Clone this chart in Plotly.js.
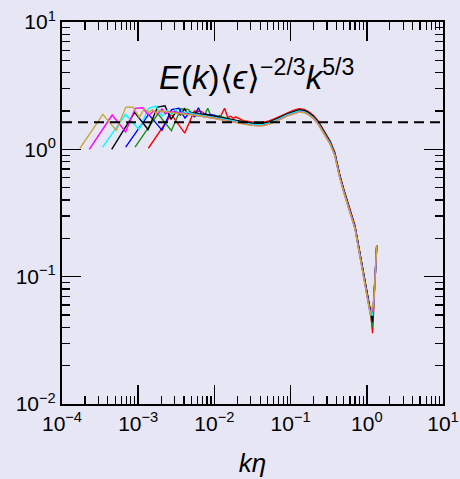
<!DOCTYPE html>
<html><head><meta charset="utf-8">
<script src="https://cdn.plot.ly/plotly-3.0.1.min.js"></script>
<style>html,body{margin:0;padding:0;background:#e6e6f5;}#chart{width:460px;height:479px;}</style>
</head><body><div id="chart"></div>
<script>
// ---- data ----
const seriesColors = ['#c9a83f', '#ff00ff', '#00ffff', '#000000', '#0000ff', '#1a8c1a', '#ff0000'];
// k*eta of the first shell (k = 1) of each run
const firstKEta = [1.72e-4, 2.28e-4, 3.42e-4, 4.49e-4, 6.85e-4, 9.08e-4, 1.36e-3];
// compensated spectrum for shells k = 1..14 of each run
const lowGold    = [1.02, 1.88, 1.41, 2.14, 2.14, 1.78, 2.08, 1.95, 2.05, 1.92, 2.02, 1.96, 2.00, 1.97];
const lowMagenta = [1.00, 1.86, 1.37, 2.10, 2.12, 1.85, 2.00, 1.90, 2.08, 1.90, 1.98, 1.94, 1.99, 1.95];
const lowCyan    = [1.04, 1.88, 1.43, 2.10, 2.19, 1.82, 2.02, 1.88, 2.05, 1.93, 1.96, 1.94, 1.97, 1.93];
const lowBlack   = [1.00, 1.95, 1.43, 2.15, 2.20, 1.72, 1.98, 1.86, 2.08, 1.90, 1.95, 1.92, 1.94, 1.90];
const lowBlue    = [1.04, 1.88, 1.41, 2.05, 2.10, 1.76, 1.96, 1.82, 2.12, 1.86, 1.90, 1.87, 1.88, 1.85];
const lowGreen   = [1.04, 1.90, 1.40, 2.08, 2.06, 1.80, 1.90, 1.80, 2.10, 1.80, 1.86, 1.82, 1.84, 1.80];
const lowRed     = [1.02, 1.88, 1.34, 2.00, 1.98, 1.82, 1.86, 1.76, 1.85, 2.10, 1.78, 1.82, 1.75, 1.80];
const lowSeries = [lowGold, lowMagenta, lowCyan, lowBlack, lowBlue, lowGreen, lowRed];
// collapsed high-k part (k*eta, value)
const tailKEta  = [0.002, 0.0028, 0.004, 0.0055, 0.0075, 0.01, 0.0135, 0.018, 0.024, 0.03, 0.036, 0.043, 0.052, 0.062, 0.075, 0.09, 0.11, 0.13, 0.15, 0.17, 0.2, 0.23, 0.27, 0.33, 0.38, 0.44, 0.5, 0.56, 0.63, 0.70, 0.80, 0.90, 0.98, 1.05, 1.12];
const tailValue = [1.98, 2.00, 1.96, 1.91, 1.86, 1.80, 1.74, 1.68, 1.63, 1.59, 1.575, 1.58, 1.62, 1.69, 1.78, 1.88, 1.97, 2.02, 2.00, 1.93, 1.79, 1.62, 1.38, 1.13, 0.92, 0.62, 0.47, 0.37, 0.30, 0.244, 0.158, 0.106, 0.078, 0.062, 0.051];
const tailScale = [0.97, 0.975, 0.99, 1.01, 1.0, 1.01, 1.03];
const dipKEta = 1.19;
const dipValue = [0.060, 0.056, 0.050, 0.044, 0.047, 0.040, 0.036];
const upKEta  = [1.22, 1.27, 1.31, 1.35];
const upValue = [0.058, 0.085, 0.12, 0.176];
const dashLevel = 1.63;
const dashRange = [1e-4, 1e1];
const xTickVals = [1e-4, 1e-3, 1e-2, 1e-1, 1e0, 1e1];
const xTickText = ['10<sup>\u22124</sup>', '10<sup>\u22123</sup>', '10<sup>\u22122</sup>', '10<sup>\u22121</sup>', '10<sup>0</sup>', '10<sup>1</sup>'];
const yTickVals = [1e-2, 1e-1, 1e0, 1e1];
const yTickText = ['10<sup>\u22122</sup>', '10<sup>\u22121</sup>', '10<sup>0</sup>', '10<sup>1</sup>'];
const chartTitle = '<i>E</i>(<i>k</i>)\u27e8<i>\u03f5</i>\u27e9<sup>\u22122/3</sup><i>k</i><sup>5/3</sup>';
const xTitle = '<i>k\u03b7</i>';

// ---- build traces ----
const traces = [];
for (let i = lowSeries.length - 1; i >= 0; i--) {
  const xs = [], ys = [];
  lowSeries[i].forEach((v, j) => { xs.push((j + 1) * firstKEta[i]); ys.push(v); });
  const lastX = xs[xs.length - 1];
  tailKEta.forEach((kx, j) => { if (kx > lastX * 1.1) { xs.push(kx); ys.push(tailValue[j] * tailScale[i]); } });
  xs.push(dipKEta); ys.push(dipValue[i]);
  upKEta.forEach((kx, j) => { xs.push(kx); ys.push(upValue[j]); });
  traces.push({x: xs, y: ys, mode: 'lines', line: {color: seriesColors[i], width: 1.4}, hoverinfo: 'skip'});
}
traces.push({x: dashRange, y: [dashLevel, dashLevel], mode: 'lines', line: {color: '#000', width: 2, dash: '10px,6px'}, hoverinfo: 'skip'});

const axisCommon = {
  type: 'log', tickmode: 'array', ticks: 'inside', ticklen: 19, tickwidth: 1.5, tickcolor: '#000',
  showline: true, linecolor: '#000', linewidth: 2, mirror: 'allticks', showgrid: false, zeroline: false,
  tickfont: {size: 21, color: '#000'},
  minor: {ticks: 'inside', ticklen: 8, tickwidth: 1.2, tickcolor: '#000', dtick: 'D1', showgrid: false}
};
const layout = {
  width: 460, height: 479,
  paper_bgcolor: '#e6e6f5', plot_bgcolor: '#e6e6f5',
  margin: {l: 62, r: 17, t: 22, b: 75},
  showlegend: false,
  font: {family: 'Liberation Sans, Arial, sans-serif', color: '#000'},
  xaxis: Object.assign({}, axisCommon, {range: [-4, 1], tickvals: xTickVals, ticktext: xTickText,
    title: {text: xTitle, font: {size: 26}, standoff: 20}}),
  yaxis: Object.assign({}, axisCommon, {range: [-2, 1], tickvals: yTickVals, ticktext: yTickText}),
  annotations: [{xref: 'paper', yref: 'paper', x: 0.51, y: 0.86, xanchor: 'center', yanchor: 'middle',
    text: chartTitle, showarrow: false, font: {size: 33, color: '#000'}}]
};
Plotly.newPlot('chart', traces, layout, {staticPlot: true, displayModeBar: false});
</script></body></html>
